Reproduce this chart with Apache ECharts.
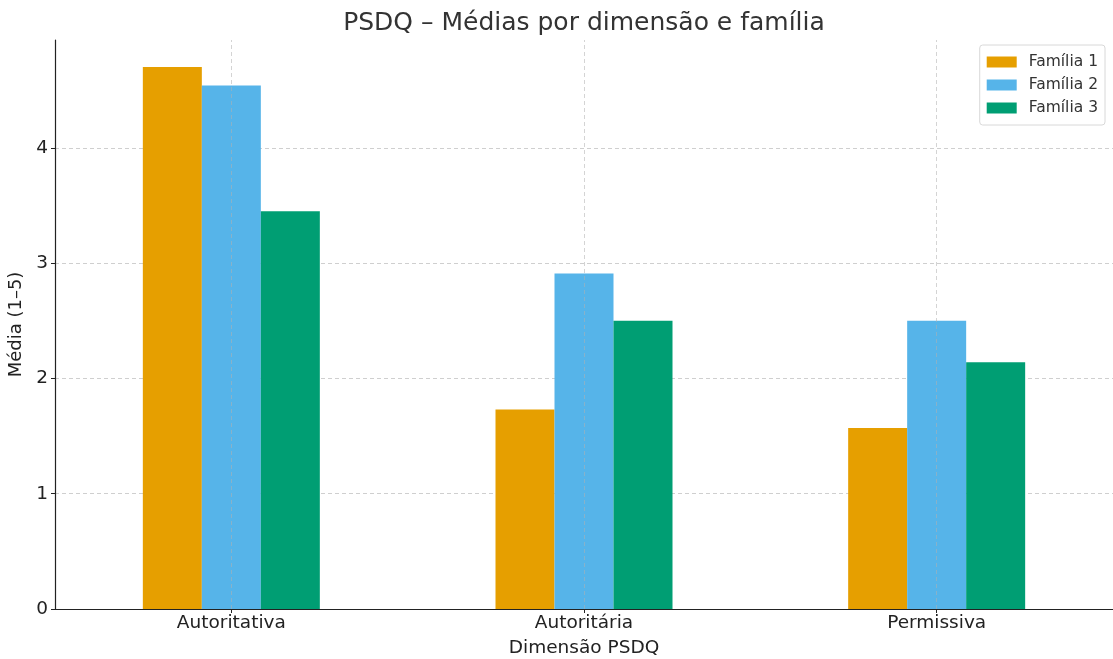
<!DOCTYPE html>
<html>
<head>
<meta charset="utf-8">
<script src="https://cdn.jsdelivr.net/npm/echarts@6/dist/echarts.min.js"></script>
<style>html,body{margin:0;padding:0;background:#fff}#c{width:1113px;height:659px}</style>
</head>
<body>
<div id="c"></div>
<script>
const categories = ['Autoritativa', 'Autoritária', 'Permissiva'];
const seriesNames = ['Família 1', 'Família 2', 'Família 3'];
const familia1 = [4.70, 1.73, 1.57];
const familia2 = [4.54, 2.91, 2.50];
const familia3 = [3.45, 2.50, 2.14];
const yTicks = [0, 1, 2, 3, 4];
const colors = ['#E69F00', '#56B4E9', '#009E73'];

const font = 'DejaVu Sans';
const chart = echarts.init(document.getElementById('c'), null, {renderer: 'canvas'});
const dataSets = [familia1, familia2, familia3];

const series = dataSets.map((d, i) => ({
  name: seriesNames[i],
  type: 'bar',
  data: d,
  barWidth: 59,
  barGap: '0%',
  itemStyle: {color: colors[i]},
  z: 2
}));
series.push({
  name: '_grid',
  type: 'line',
  data: [],
  silent: true,
  z: 5,
  markLine: {
    silent: true,
    symbol: 'none',
    label: {show: false},
    lineStyle: {color: 'rgba(176,176,176,0.55)', type: [4, 3], width: 1},
    data: categories.map(c => ({xAxis: c}))
  }
});

chart.setOption({
  animation: false,
  textStyle: {fontFamily: font},
  graphic: [{
    type: 'text', x: 584, y: 23,
    style: {text: 'PSDQ – Médias por dimensão e família', font: '25px "DejaVu Sans"', fill: '#333', textAlign: 'center', textVerticalAlign: 'middle'}
  }],
  grid: {left: 55, right: 0, top: 40, bottom: 50, containLabel: false, outerBoundsMode: 'none'},
  legend: {
    data: seriesNames,
    orient: 'vertical',
    right: 8, top: 45,
    itemWidth: 30, itemHeight: 11, itemGap: 7,
    padding: [9, 7, 9, 7],
    borderColor: '#d8d8d8', borderWidth: 1, borderRadius: 3,
    backgroundColor: '#fff',
    textStyle: {fontFamily: font, fontSize: 15.5, color: '#333', padding: [0, 0, 0, 7]},
    icon: 'rect'
  },
  xAxis: {
    type: 'category',
    data: categories,
    name: 'Dimensão PSDQ',
    nameLocation: 'middle',
    nameGap: 30,
    nameTextStyle: {fontFamily: font, fontSize: 18.5, color: '#222'},
    axisLine: {lineStyle: {color: '#222', width: 1.2}},
    axisTick: {show: true, alignWithLabel: true, length: 4, lineStyle: {color: '#222'}},
    axisLabel: {fontFamily: font, fontSize: 18.5, color: '#222', margin: 5},
    splitLine: {show: false}
  },
  yAxis: {
    type: 'value',
    min: 0, max: 4.935, interval: 1,
    name: 'Média (1–5)',
    nameLocation: 'middle',
    nameGap: 28,
    nameTextStyle: {fontFamily: font, fontSize: 18, color: '#222'},
    axisLine: {show: true, lineStyle: {color: '#222', width: 1.2}},
    axisTick: {show: true, length: 4, lineStyle: {color: '#222'}},
    axisLabel: {fontFamily: font, fontSize: 18.5, color: '#222', margin: 7, showMaxLabel: false,
      formatter: v => yTicks.includes(v) ? String(v) : ''},
    splitLine: {show: true, showMaxLine: false, showMinLine: false, lineStyle: {color: '#cfcfcf', type: [4, 3], width: 1}}
  },
  series: series
});
</script>
</body>
</html>
